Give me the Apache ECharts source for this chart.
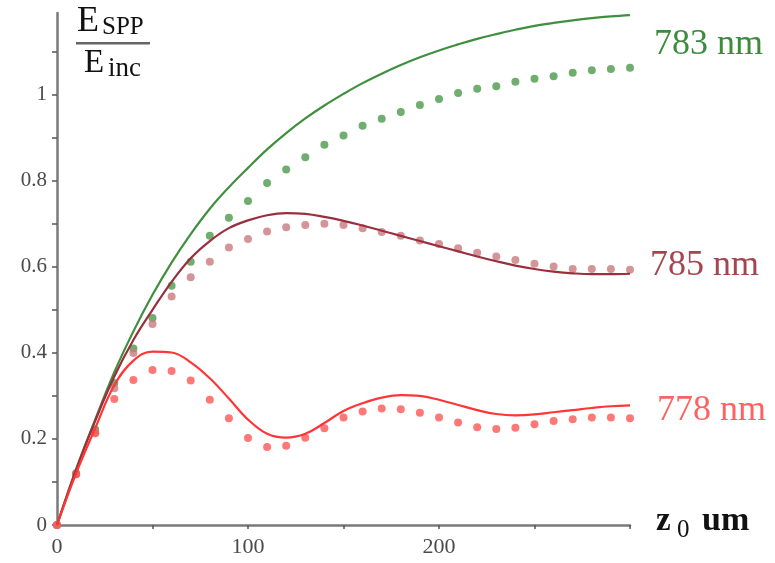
<!DOCTYPE html>
<html><head><meta charset="utf-8">
<script src="https://cdn.jsdelivr.net/npm/echarts@6/dist/echarts.min.js"></script>
<style>html,body{margin:0;padding:0;background:#fff}#c{width:775px;height:563px}</style>
</head><body><div id="c"></div>
<script>
const xs = [0,10,20,30,40,50,60,70,80,90,100,110,120,130,140,150,160,170,180,190,200,210,220,230,240,250,260,270,280,290,300];
const line783 = [0,0.13,0.245,0.355,0.45,0.535,0.61,0.676,0.735,0.785,0.83,0.873,0.911,0.945,0.975,1.002,1.027,1.049,1.069,1.087,1.103,1.117,1.13,1.141,1.151,1.16,1.167,1.173,1.178,1.182,1.185];
const dots783 = [0,0.12,0.222,0.33,0.41,0.481,0.556,0.612,0.672,0.714,0.753,0.795,0.826,0.855,0.884,0.905,0.928,0.944,0.96,0.976,0.99,1.004,1.014,1.02,1.03,1.037,1.043,1.051,1.057,1.06,1.063];
const line785 = [0,0.128,0.242,0.345,0.43,0.5,0.565,0.62,0.66,0.69,0.708,0.72,0.725,0.723,0.716,0.707,0.696,0.684,0.672,0.66,0.648,0.636,0.624,0.613,0.603,0.595,0.589,0.585,0.583,0.583,0.584];
const dots785 = [0,0.118,0.215,0.318,0.4,0.467,0.531,0.576,0.612,0.645,0.665,0.682,0.692,0.697,0.7,0.697,0.69,0.681,0.672,0.661,0.653,0.643,0.633,0.624,0.616,0.607,0.601,0.595,0.595,0.595,0.593];
const line778 = [0,0.12,0.225,0.325,0.382,0.403,0.401,0.378,0.341,0.294,0.245,0.212,0.203,0.212,0.237,0.265,0.283,0.296,0.302,0.3,0.291,0.279,0.267,0.258,0.255,0.257,0.262,0.267,0.272,0.276,0.278];
const dots778 = [0,0.118,0.213,0.293,0.337,0.36,0.358,0.336,0.291,0.248,0.202,0.181,0.184,0.203,0.225,0.25,0.264,0.271,0.269,0.261,0.25,0.238,0.227,0.223,0.226,0.234,0.242,0.246,0.25,0.25,0.248];
const xTicks = [0,50,100,150,200,250,300];
const xLabels = [0,100,200];
const yTicks = [0,0.1,0.2,0.3,0.4,0.5,0.6,0.7,0.8,0.9,1,1.1];
const yLabels = [0,0.2,0.4,0.6,0.8,1];

const pair = a => xs.map((x,i)=>[x,a[i]]);
const serif = '"Liberation Serif","DejaVu Serif",serif';
const C = {g:'#3f8f3f', gd:'#4c9a4c', m:'#9a2f3e', md:'#c97b80', r:'#ff3636', rd:'#ff5656'};

const chart = echarts.init(document.getElementById('c'));
function lineS(d,c){return {type:'line',data:pair(d),showSymbol:false,smooth:0.4,lineStyle:{color:c,width:2.2},z:3,animation:false};}
function dotS(d,c){return {type:'scatter',data:pair(d),symbol:'circle',symbolSize:8,itemStyle:{color:c},z:2,animation:false};}
chart.setOption({
  animation:false,
  grid:{left:57,right:145,top:13,bottom:38},
  xAxis:{type:'value',min:0,max:300,
    axisLine:{lineStyle:{color:'#7a7a7a',width:2.5}},
    axisTick:{show:true,length:4,customValues:xTicks,lineStyle:{color:'#555',width:1.5}},
    axisLabel:{customValues:xLabels,fontFamily:serif,fontSize:22,color:'#4a4a4a',margin:11},
    splitLine:{show:false}},
  yAxis:{type:'value',min:0,max:1.19,
    axisLine:{show:true,lineStyle:{color:'#7a7a7a',width:2.5}},
    axisTick:{show:true,length:5,customValues:yTicks,lineStyle:{color:'#555',width:1.5}},
    axisLabel:{customValues:yLabels,fontFamily:serif,fontSize:21,color:'#4a4a4a',margin:10},
    splitLine:{show:false}},
  series:[dotS(dots783,C.gd),dotS(dots785,C.md),dotS(dots778,C.rd),
          lineS(line783,C.g),lineS(line785,C.m),lineS(line778,C.r)],
  graphic:[
    {type:'text',left:77,top:4,style:{text:'E',font:'36px '+serif,fill:'#111'}},
    {type:'text',left:102,top:15,style:{text:'SPP',font:'25px '+serif,fill:'#111'}},
    {type:'rect',shape:{x:76,y:42,width:74,height:2.5},style:{fill:'#666'}},
    {type:'text',left:84,top:47,style:{text:'E',font:'33px '+serif,fill:'#111'}},
    {type:'text',left:108,top:55,style:{text:'inc',font:'27px '+serif,fill:'#111'}},
    {type:'text',left:656,top:505,style:{text:'z',font:'bold 33px '+serif,fill:'#111'}},
    {type:'text',left:677,top:518,style:{text:'0',font:'25px '+serif,fill:'#111'}},
    {type:'text',left:702,top:504,style:{text:'um',font:'bold 34px '+serif,fill:'#111'}},
    {type:'text',left:654,top:27,style:{text:'783 nm',font:'36px '+serif,fill:'#3d8b3d'}},
    {type:'text',left:650,top:248,style:{text:'785 nm',font:'36px '+serif,fill:'#a5454f'}},
    {type:'text',left:657,top:393,style:{text:'778 nm',font:'36px '+serif,fill:'#ff6262'}}
  ]
});
</script></body></html>
